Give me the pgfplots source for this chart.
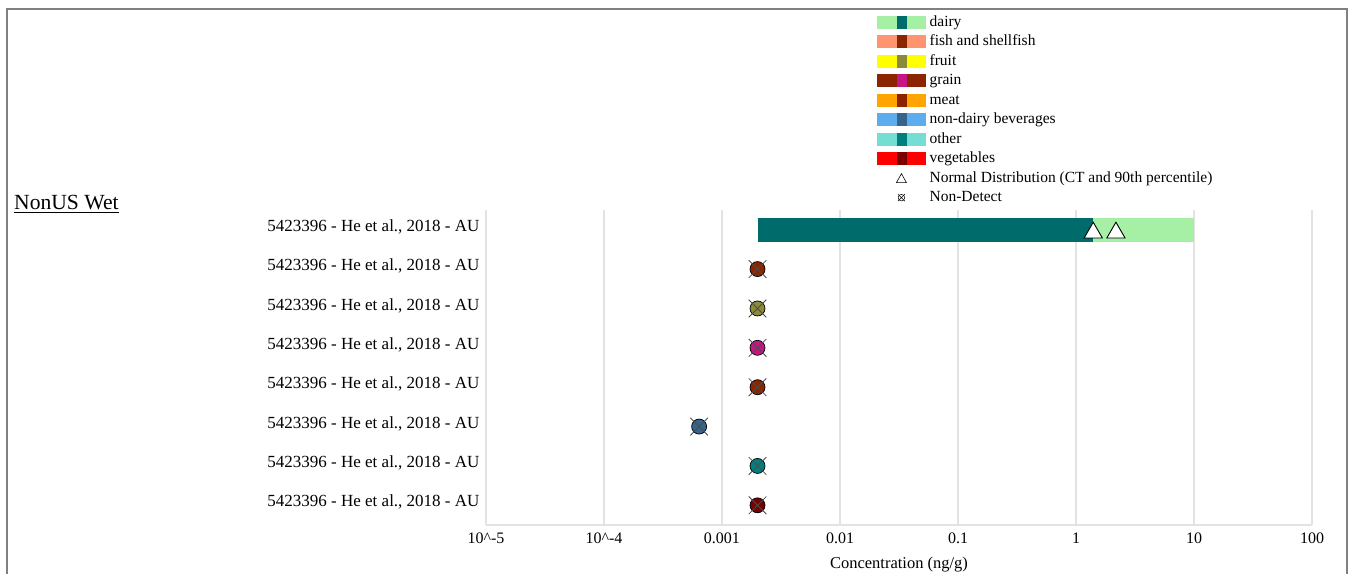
\documentclass[border=0pt]{standalone}
\usepackage{pgfplots}
\pgfplotsset{compat=1.18}
\usepackage{fontspec}
\setmainfont{Liberation Serif}
\definecolor{dairyL}{HTML}{A6F0A6}
\definecolor{dairyD}{HTML}{006B6B}
\definecolor{fishL}{HTML}{FF9470}
\definecolor{fishD}{HTML}{8B2500}
\definecolor{fruitL}{HTML}{FFFF00}
\definecolor{fruitD}{HTML}{8B893A}
\definecolor{grainL}{HTML}{8B2500}
\definecolor{grainD}{HTML}{C71585}
\definecolor{meatL}{HTML}{FFA500}
\definecolor{meatD}{HTML}{8B2500}
\definecolor{bevL}{HTML}{5CACEE}
\definecolor{bevD}{HTML}{36648B}
\definecolor{otherL}{HTML}{74DDD4}
\definecolor{otherD}{HTML}{007F7F}
\definecolor{vegL}{HTML}{FF0000}
\definecolor{vegD}{HTML}{7A0000}
\definecolor{gridc}{HTML}{E3E3E3}
\definecolor{framec}{HTML}{808080}
\newcommand{\swatch}[2]{\addlegendimage{legend image code/.code={%
  \fill[#1] (0pt,-6pt) rectangle (48pt,6pt);
  \fill[#2] (19.5pt,-6pt) rectangle (29pt,6pt);}}}
\newcommand{\lab}{{5423396 - He et al., 2018 - AU}}
\begin{document}
\begin{tikzpicture}
\useasboundingbox (0pt,0pt) rectangle (1351pt,574pt);
\draw[framec, line width=2pt] (7pt,0pt) -- (7pt,565pt) -- (1347pt,565pt) -- (1347pt,0pt);
\node[anchor=base west, inner sep=0pt] at (14pt,364pt) {\fontsize{21.6}{24}\selectfont\underline{NonUS Wet}};
\begin{axis}[
  at={(486pt,49pt)}, anchor=south west,
  scale only axis, width=826pt, height=315pt,
  xmode=log, xmin=1e-5, xmax=100,
  ymin=0.5, ymax=8.5, y dir=reverse,
  axis x line=bottom, axis y line=left,
  axis line style={gridc, line width=1.2pt, -},
  xtick={1e-5,1e-4,1e-3,1e-2,1e-1,1,10,100},
  xticklabels={10\textasciicircum-5,10\textasciicircum-4,0.001,0.01,0.1,1,10,100},
  minor xtick={}, 
  ytick={1,2,3,4,5,6,7,8},
  yticklabels={{5423396 - He et al., 2018 - AU},{5423396 - He et al., 2018 - AU},{5423396 - He et al., 2018 - AU},{5423396 - He et al., 2018 - AU},{5423396 - He et al., 2018 - AU},{5423396 - He et al., 2018 - AU},{5423396 - He et al., 2018 - AU},{5423396 - He et al., 2018 - AU}},
  major tick length=0pt,
  xmajorgrids, major grid style={gridc, line width=1.2pt},
  /pgf/number format/assume math mode=true,
  xticklabel style={font=\fontsize{16}{18}\selectfont, yshift=-4pt},
  yticklabel style={font=\fontsize{17}{19}\selectfont, xshift=-3pt, yshift=3pt},
  xlabel={Concentration (ng/g)},
  xlabel style={font=\fontsize{16.5}{18}\selectfont, yshift=-7pt},
  clip=false,
  legend style={at={(0.4734,1.628)}, anchor=north west, draw=none, fill=none,
    inner sep=0pt, font=\fontsize{15.5}{17}\selectfont,
    nodes={text height=11pt, text depth=3pt, inner ysep=2.75pt, inner xsep=4pt},
    row sep=0pt},
  legend cell align=left,
]
% dairy bar
\addplot[forget plot, dairyL, line width=24pt] coordinates {(1.40,1) (10,1)};
\addplot[forget plot, dairyD, line width=24pt] coordinates {(0.002,1) (1.40,1)};
\addplot[forget plot, only marks, mark=triangle*, mark size=10.5pt,
  mark options={fill=white, draw=black, line width=0.9pt, yshift=-3pt}] coordinates {(1.40,1) (2.18,1)};
% non-detects
\addplot[forget plot, only marks, mark=*, mark size=7.5pt, mark options={fill=fishD, draw=black, line width=0.7pt}] coordinates {(0.002,2)};
\addplot[forget plot, only marks, mark=*, mark size=7.5pt, mark options={fill=fruitD, draw=black, line width=0.7pt}] coordinates {(0.002,3)};
\addplot[forget plot, only marks, mark=*, mark size=7.5pt, mark options={fill=grainD, draw=black, line width=0.7pt}] coordinates {(0.002,4)};
\addplot[forget plot, only marks, mark=*, mark size=7.5pt, mark options={fill=meatD, draw=black, line width=0.7pt}] coordinates {(0.002,5)};
\addplot[forget plot, only marks, mark=*, mark size=7.5pt, mark options={fill=bevD, draw=black, line width=0.7pt}] coordinates {(0.00064,6)};
\addplot[forget plot, only marks, mark=*, mark size=7.5pt, mark options={fill=otherD, draw=black, line width=0.7pt}] coordinates {(0.002,7)};
\addplot[forget plot, only marks, mark=*, mark size=7.5pt, mark options={fill=vegD, draw=black, line width=0.7pt}] coordinates {(0.002,8)};
\addplot[forget plot, only marks, mark=x, mark size=12.5pt, mark options={draw=black!70, line width=0.8pt}] coordinates {(0.002,2) (0.002,3) (0.002,4) (0.002,5) (0.00064,6) (0.002,7) (0.002,8)};
% legend
\swatch{dairyL}{dairyD}\addlegendentry{dairy}
\swatch{fishL}{fishD}\addlegendentry{fish and shellfish}
\swatch{fruitL}{fruitD}\addlegendentry{fruit}
\swatch{grainL}{grainD}\addlegendentry{grain}
\swatch{meatL}{meatD}\addlegendentry{meat}
\swatch{bevL}{bevD}\addlegendentry{non-dairy beverages}
\swatch{otherL}{otherD}\addlegendentry{other}
\swatch{vegL}{vegD}\addlegendentry{vegetables}
\addlegendimage{legend image code/.code={%
  \path[draw=none, fill=none] (0pt,-6pt) rectangle (48pt,6pt);
  \draw[black, fill=white, line width=0.6pt] (19pt,-4.5pt) -- (29pt,-4.5pt) -- (24pt,4.5pt) -- cycle;}}
\addlegendentry{Normal Distribution (CT and 90th percentile)}
\addlegendimage{legend image code/.code={%
  \path[draw=none, fill=none] (0pt,-6pt) rectangle (48pt,6pt);
  \draw[black, fill=white, line width=0.5pt] (24pt,0pt) circle (3.3pt);
  \draw[black, line width=0.5pt] (20.5pt,-3.5pt) -- (27.5pt,3.5pt) (20.5pt,3.5pt) -- (27.5pt,-3.5pt);}}
\addlegendentry{Non-Detect}
\end{axis}
\end{tikzpicture}
\end{document}
